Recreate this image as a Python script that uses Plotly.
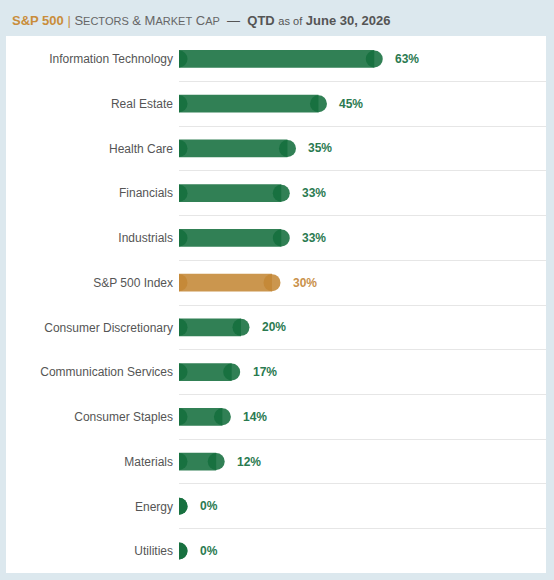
import plotly.graph_objects as go

categories = ["Information Technology", "Real Estate", "Health Care", "Financials",
              "Industrials", "S&P 500 Index", "Consumer Discretionary",
              "Communication Services", "Consumer Staples", "Materials", "Energy", "Utilities"]
values = [63, 45, 35, 33, 33, 30, 20, 17, 14, 12, 0, 0]
labels = ["63%", "45%", "35%", "33%", "33%", "30%", "20%", "17%", "14%", "12%", "0%", "0%"]
highlight = "S&P 500 Index"

GREEN_FILL = "rgba(20,110,62,0.88)"
ORANGE_FILL = "rgba(196,136,54,0.88)"
GREEN_TXT = "#2a7a50"
ORANGE_TXT = "#c9914a"

fills = [ORANGE_FILL if c == highlight else GREEN_FILL for c in categories]
txtcols = [ORANGE_TXT if c == highlight else GREEN_TXT for c in categories]

W, H = 554, 580
L, R, T, B = 179, 8, 37, 7
PW, PH = W - L - R, H - T - B


def px_x(px):
    return (px - L) / PW


def px_y(py):
    return (H - B - py) / PH


fig = go.Figure()
fig.add_trace(go.Bar(
    y=categories, x=values, orientation="h", width=0.40,
    marker=dict(color=fills, line=dict(width=0)), hoverinfo="skip",
))
fig.add_trace(go.Scatter(
    y=categories, x=[0] * len(values), mode="markers",
    marker=dict(size=17, color=fills, line=dict(width=0)), hoverinfo="skip",
    cliponaxis=True,
))
fig.add_trace(go.Scatter(
    y=categories, x=values, mode="markers",
    marker=dict(size=17, color=fills, line=dict(width=0)), hoverinfo="skip",
    cliponaxis=True,
))

annotations = []
for c, v, t, col in zip(categories, values, labels, txtcols):
    annotations.append(dict(
        x=v, y=c, xref="x", yref="y", text=f"<b>{t}</b>", showarrow=False,
        xanchor="left", yanchor="middle", xshift=19,
        font=dict(family="Liberation Sans, Arial, sans-serif", size=12, color=col),
    ))

sc = "font-size:11px"
title = (
    f"<span style='color:#c98d3a'><b>S&amp;P 500</b></span>"
    f"<span style='color:#c98d3a'> | </span>"
    f"<span style='color:#666'>S<span style='{sc}'>ECTORS</span> &amp; "
    f"M<span style='{sc}'>ARKET</span> C<span style='{sc}'>AP</span></span>"
    f"<span style='color:#555'>  —  <b>QTD</b> <span style='{sc}'>as of</span> <b>June 30, 2026</b></span>"
)
annotations.append(dict(
    x=px_x(10), y=px_y(20), xref="paper", yref="paper", text=title, showarrow=False,
    xanchor="left", yanchor="middle",
    font=dict(family="Liberation Sans, Arial, sans-serif", size=13, color="#555"),
))

fig.update_layout(
    width=W, height=H,
    margin=dict(l=L, r=R, t=T, b=B),
    paper_bgcolor="#dce8ee", plot_bgcolor="white",
    showlegend=False, barmode="overlay",
    annotations=annotations,
    shapes=[dict(type="rect", xref="paper", yref="paper", layer="below",
                 x0=px_x(6), x1=px_x(546), y0=px_y(573), y1=px_y(36),
                 fillcolor="white", line=dict(width=0))],
    xaxis=dict(range=[0, 118.4], showgrid=False, zeroline=False, showticklabels=False,
               fixedrange=True),
    yaxis=dict(type="category", categoryorder="array", categoryarray=categories,
               range=[11.49, -0.49], tickson="boundaries", showgrid=True,
               gridcolor="#e6e6e6", gridwidth=1, ticks="", zeroline=False,
               ticklabelstandoff=5,
               tickfont=dict(family="Liberation Sans, Arial, sans-serif", size=12, color="#555")),
)

fig.write_html("out.html")
